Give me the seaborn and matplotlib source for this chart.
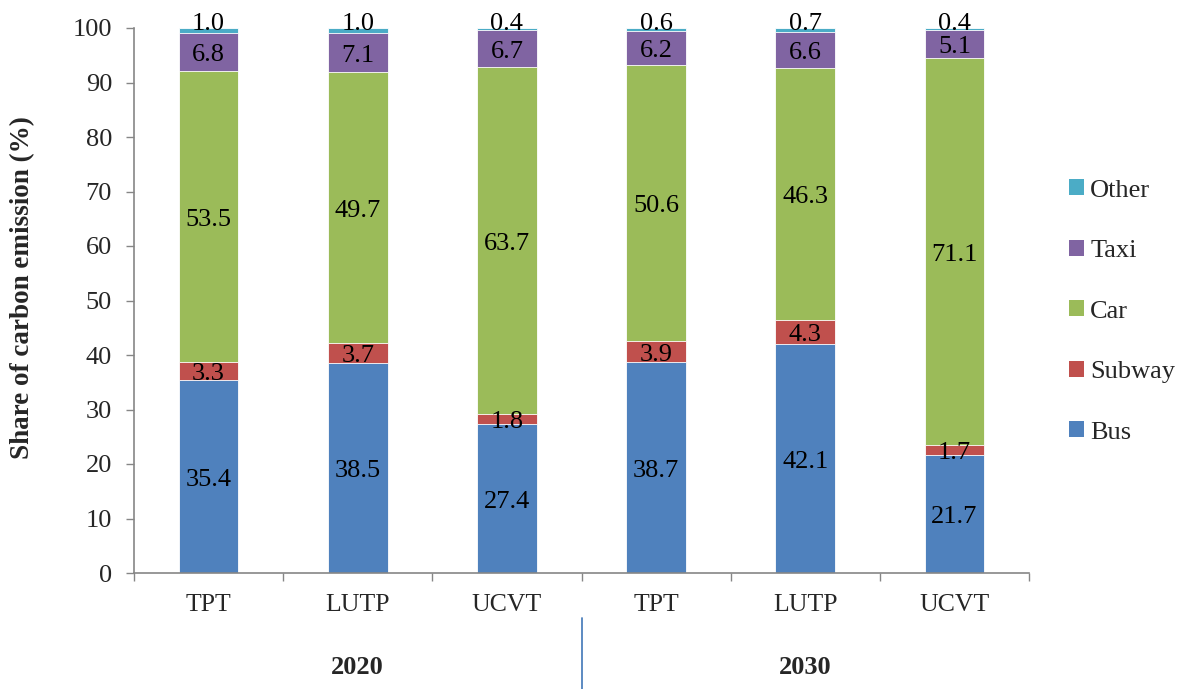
import numpy as np
import pandas as pd
import matplotlib
matplotlib.use("Agg")
import matplotlib.pyplot as plt
from matplotlib.patches import Patch
from matplotlib.lines import Line2D
import seaborn as sns

# Scenario data: share of carbon emission (%) by travel mode
years = ["2020", "2030"]
scenarios = ["TPT", "LUTP", "UCVT", "TPT", "LUTP", "UCVT"]
bus = [35.4, 38.5, 27.4, 38.7, 42.1, 21.7]
subway = [3.3, 3.7, 1.8, 3.9, 4.3, 1.7]
car = [53.5, 49.7, 63.7, 50.6, 46.3, 71.1]
taxi = [6.8, 7.1, 6.7, 6.2, 6.6, 5.1]
other = [1.0, 1.0, 0.4, 0.6, 0.7, 0.4]

modes = ["Bus", "Subway", "Car", "Taxi", "Other"]
colors = {"Bus": "#4F81BD", "Subway": "#C0504D", "Car": "#9BBB59",
          "Taxi": "#8064A2", "Other": "#4BACC6"}
values = {"Bus": bus, "Subway": subway, "Car": car, "Taxi": taxi, "Other": other}

sns.set_style("ticks")
plt.rcParams["font.family"] = ["Liberation Serif", "DejaVu Serif"]
plt.rcParams["axes.edgecolor"] = "#868686"

keys = [f"{years[i // 3]} {s}" for i, s in enumerate(scenarios)]

rows = []
for i, k in enumerate(keys):
    base = 0.0
    for m in modes:
        v = values[m][i]
        rows.append({"key": k, "mode": m, "value": v, "bottom": base, "top": base + v})
        base += v
df = pd.DataFrame(rows)

fig = plt.figure(figsize=(11.84, 6.89), dpi=100)
ax = fig.add_axes([134 / 1184, 116 / 689, (1029 - 134) / 1184, (573 - 28) / 689])

# Stacked bars: draw cumulative tops from the highest layer down
for m in reversed(modes):
    sub = df[df["mode"] == m]
    sns.barplot(data=sub, x="key", y="top", order=keys, color=colors[m],
                width=0.4, edgecolor="white", linewidth=0.6, saturation=1,
                ax=ax, zorder=2)

fs = 19
for _, r in df.iterrows():
    xi = keys.index(r["key"])
    if r["mode"] == "Other":
        ax.text(xi, r["top"] - 0.3, f"{r['value']:.1f}", ha="center", va="baseline",
                fontsize=fs, color="black", zorder=5, clip_on=False)
    else:
        ax.text(xi, (r["bottom"] + r["top"]) / 2 - 0.6, f"{r['value']:.1f}",
                ha="center", va="center", fontsize=fs, color="black", zorder=5)

ax.set_xlim(-0.5, len(keys) - 0.5)
ax.set_ylim(0, 100)
ax.set_yticks(np.arange(0, 101, 10))
ax.tick_params(axis="y", labelsize=fs, length=5.8, width=1, color="#868686", pad=10)
ax.set_xticks(range(len(keys)))
ax.set_xticklabels(scenarios)
ax.tick_params(axis="x", which="major", length=0, labelsize=18.5, pad=15)
ax.set_xticks(np.arange(-0.5, len(keys), 1), minor=True)
ax.tick_params(axis="x", which="minor", length=5.8, width=1, color="#868686")
ax.set_xlabel("")
ax.set_ylabel("Share of carbon emission (%)", fontsize=19.5, fontweight="bold")
ax.yaxis.set_label_coords((35 - 134) / 895, (573 - 288) / 545)
for s in ["top", "right"]:
    ax.spines[s].set_visible(False)
for s in ["left", "bottom"]:
    ax.spines[s].set_linewidth(1.2)

# Year group labels and separator
trans = ax.get_xaxis_transform()
for gi, y in enumerate(years):
    ax.text(gi * 3 + 1, -(668 - 573) / 545, y, transform=trans, ha="center", va="center",
            fontsize=19, fontweight="bold")
sep = Line2D([2.5, 2.5], [-(618 - 573) / 545, -(689 - 573) / 545], transform=trans,
             color="#4F81BD", linewidth=1.3, clip_on=False)
ax.add_line(sep)

handles = [Patch(facecolor=colors[m], edgecolor="none", label=m) for m in reversed(modes)]
fig.legend(handles=handles, loc="center left", bbox_to_anchor=(1069 / 1184, 1 - 311.5 / 689),
           frameon=False, fontsize=fs, handlelength=0.55, handleheight=0.55,
           handletextpad=0.25, labelspacing=1.45, borderpad=0, borderaxespad=0)

fig.savefig("out.png", dpi=100)
